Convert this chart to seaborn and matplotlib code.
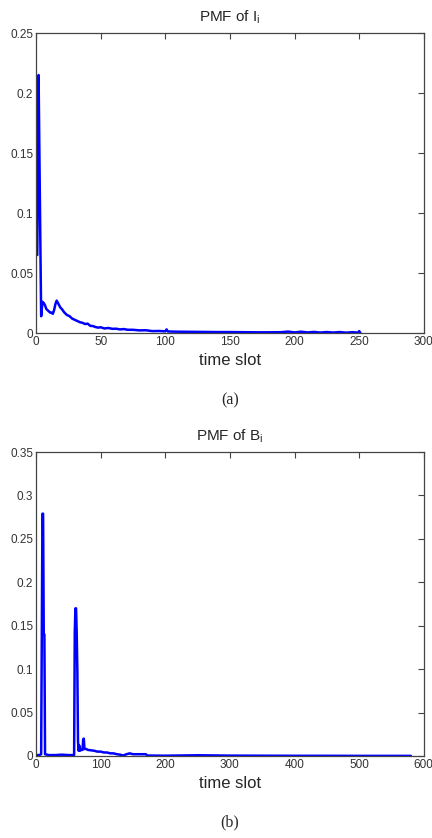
import pandas as pd
import matplotlib.pyplot as plt
import seaborn as sns

# PMF of I_i (panel a)
slot_a = [1, 2, 3, 4, 5, 6, 7, 8, 9, 10, 11, 12, 13, 14, 15, 16, 17, 18, 19, 20,
          22, 24, 26, 28, 30, 32, 34, 36, 38, 40, 42, 44, 46, 48, 50, 53, 56, 59,
          62, 65, 68, 71, 75, 80, 85, 90, 95, 100, 101, 102, 105, 110, 120, 130,
          140, 150, 160, 170, 180, 190, 195, 200, 205, 210, 215, 220, 225, 230,
          235, 240, 245, 249, 250, 251]
pmf_a = [0.065, 0.215, 0.113, 0.014, 0.026, 0.025, 0.023, 0.020, 0.019, 0.018,
         0.017, 0.017, 0.016, 0.019, 0.024, 0.027, 0.025, 0.023, 0.021, 0.020,
         0.017, 0.015, 0.014, 0.012, 0.011, 0.010, 0.009, 0.0085, 0.0075, 0.0078,
         0.006, 0.0058, 0.005, 0.0045, 0.0048, 0.0038, 0.0042, 0.0035, 0.0036,
         0.0030, 0.0033, 0.0027, 0.0027, 0.0022, 0.0023, 0.0016, 0.0017, 0.0014,
         0.0030, 0.0013, 0.0012, 0.0011, 0.0010, 0.0009, 0.0008, 0.0008, 0.0007,
         0.0006, 0.0006, 0.0007, 0.0012, 0.0005, 0.0011, 0.0005, 0.0009, 0.0004,
         0.0008, 0.0004, 0.0008, 0.0003, 0.0007, 0.0003, 0.0016, 0.0]

# PMF of B_i (panel b)
slot_b = [1, 5, 8, 9, 10, 11, 12, 13, 14, 20, 30, 40, 50, 58, 59, 60, 61, 62, 63,
          64, 65, 66, 67, 68, 70, 72, 73, 74, 75, 78, 80, 85, 90, 95, 100, 105,
          110, 115, 120, 125, 130, 135, 140, 145, 150, 160, 170, 172, 200, 250,
          300, 350, 400, 450, 500, 550, 580]
pmf_b = [0.001, 0.001, 0.002, 0.140, 0.279, 0.279, 0.140, 0.140, 0.002, 0.001,
         0.001, 0.0015, 0.001, 0.001, 0.001, 0.142, 0.170, 0.170, 0.142, 0.098,
         0.017, 0.006, 0.012, 0.006, 0.007, 0.007, 0.019, 0.020, 0.008, 0.008,
         0.007, 0.0065, 0.006, 0.005, 0.005, 0.004, 0.004, 0.003, 0.003, 0.002,
         0.0015, 0.0005, 0.002, 0.003, 0.002, 0.002, 0.002, 0.0005, 0.0003,
         0.0008, 0.0004, 0.0003, 0.0002, 0.0002, 0.0001, 0.0001, 0.0001]

xticks_a = [0, 50, 100, 150, 200, 250, 300]
yticks_a = [0, 0.05, 0.1, 0.15, 0.2, 0.25]
ytick_labels_a = ['0', '0.05', '0.1', '0.15', '0.2', '0.25']
xticks_b = [0, 100, 200, 300, 400, 500, 600]
yticks_b = [0, 0.05, 0.1, 0.15, 0.2, 0.25, 0.3, 0.35]
ytick_labels_b = ['0', '0.05', '0.1', '0.15', '0.2', '0.25', '0.3', '0.35']

df_a = pd.DataFrame({'slot': slot_a, 'pmf': pmf_a})
df_b = pd.DataFrame({'slot': slot_b, 'pmf': pmf_b})

sns.set_style('white')
plt.rcParams['font.family'] = ['Liberation Sans', 'DejaVu Sans']
plt.rcParams['mathtext.fontset'] = 'custom'
plt.rcParams['mathtext.rm'] = 'Liberation Sans'
plt.rcParams['mathtext.it'] = 'Liberation Sans'

fig = plt.figure(figsize=(4.32, 8.38), dpi=100)
ax1 = fig.add_axes([0.0833, 0.6026, 0.8977, 0.358])
ax2 = fig.add_axes([0.0833, 0.0979, 0.8977, 0.3627])

panels = [
    (ax1, df_a, 'PMF of I$_\\mathregular{i}$', xticks_a, yticks_a, ytick_labels_a, '(a)', -0.223),
    (ax2, df_b, 'PMF of B$_\\mathregular{i}$', xticks_b, yticks_b, ytick_labels_b, '(b)', -0.22),
]

for ax, d, title, xt, yt, ytl, tag, tag_y in panels:
    sns.lineplot(data=d, x='slot', y='pmf', ax=ax, color='#0000ff', linewidth=1.8)
    ax.set_xlim(xt[0], xt[-1])
    ax.set_ylim(yt[0], yt[-1])
    ax.set_xticks(xt)
    ax.set_xticklabels([str(v) for v in xt])
    ax.set_yticks(yt)
    ax.set_yticklabels(ytl)
    ax.tick_params(direction='in', length=4, width=0.8, top=True, right=True,
                   labelsize=8.5, labelcolor='#333333', color='#444444', pad=2)
    for s in ax.spines.values():
        s.set_color('#444444')
        s.set_linewidth(0.9)
    ax.set_title(title, fontsize=11, pad=8)
    ax.set_xlabel('time slot', fontsize=12, labelpad=4)
    ax.set_ylabel('')
    ax.text(0.5, tag_y, tag, transform=ax.transAxes, ha='center', va='center',
            fontsize=11.5, family='Liberation Serif')

fig.savefig('out.png', dpi=100)
